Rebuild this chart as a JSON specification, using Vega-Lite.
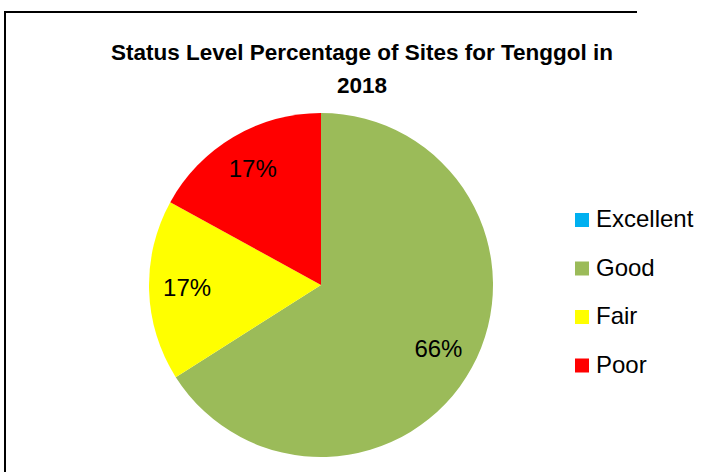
{
  "$schema": "https://vega.github.io/schema/vega-lite/v6.json",
  "width": 632,
  "height": 546,
  "autosize": "none",
  "padding": {"left": 5, "top": 12, "right": 73, "bottom": 0},
  "background": "white",
  "view": {"stroke": "black", "strokeWidth": 2, "strokeDash": [632, 1178, 546]},
  "title": {
    "text": ["Status Level Percentage of Sites for Tenggol in", "2018"],
    "font": "Liberation Sans",
    "fontSize": 22.5,
    "fontWeight": "bold",
    "color": "black",
    "anchor": "middle",
    "dx": 41,
    "lineHeight": 33,
    "offset": -85
  },
  "data": {
    "values": [
      {"Status": "Excellent", "pct": 0, "ord": 1},
      {"Status": "Good", "pct": 0.66, "ord": 2},
      {"Status": "Fair", "pct": 0.17, "ord": 3},
      {"Status": "Poor", "pct": 0.17, "ord": 4}
    ]
  },
  "encoding": {
    "theta": {"field": "pct", "type": "quantitative", "stack": true},
    "order": {"field": "ord", "type": "quantitative"}
  },
  "layer": [
    {
      "mark": {"type": "arc", "outerRadius": 172},
      "encoding": {
        "color": {
          "field": "Status",
          "type": "nominal",
          "scale": {
            "domain": ["Excellent", "Good", "Fair", "Poor"],
            "range": ["#00B0F0", "#9BBB59", "#FFFF00", "#FF0000"]
          },
          "legend": {
            "orient": "none",
            "legendX": 565,
            "legendY": 196,
            "title": null,
            "padding": 0,
            "symbolType": "square",
            "symbolSize": 196,
            "symbolStrokeWidth": 0,
            "labelFont": "Liberation Sans",
            "labelFontSize": 24,
            "labelColor": "black",
            "labelOffset": 2,
            "labelLimit": 200,
            "rowPadding": 24.5
          }
        }
      }
    },
    {
      "transform": [{"filter": "datum.pct > 0"}],
      "mark": {"type": "text", "radius": 134, "font": "Liberation Sans", "fontSize": 24, "color": "black"},
      "encoding": {
        "text": {"field": "pct", "type": "quantitative", "format": ".0%"}
      }
    }
  ]
}
